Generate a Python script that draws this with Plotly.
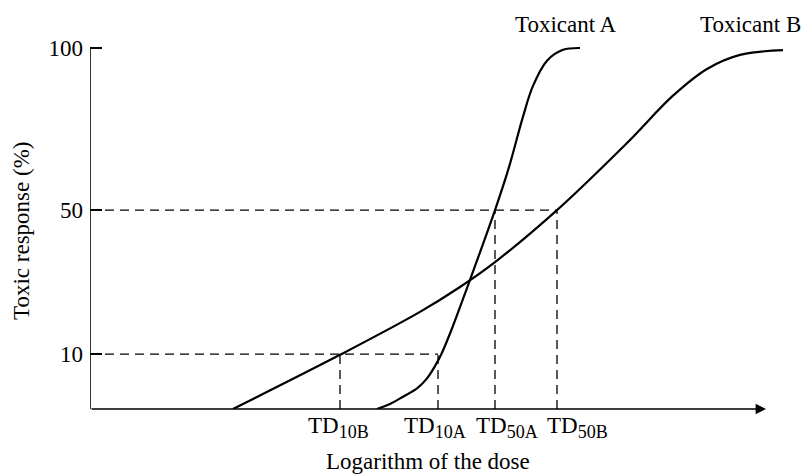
import plotly.graph_objects as go

# Schematic units: x = log dose (arbitrary), y = display height of response axis (0..100 == 0..100 %)
tox_a_x = [28.7, 30.0, 31.3, 32.7, 33.7, 34.5, 35.2, 36.2, 37.7, 40.5, 41.9, 43.3, 44.3, 45.7, 47.3, 49.0]
tox_a_y = [0.0, 1.4, 3.4, 5.7, 8.5, 11.9, 15.6, 22.3, 33.5, 55.1, 67.0, 81.0, 89.5, 96.5, 99.5, 100.0]

tox_b_x = [14.3, 25.0, 33.0, 37.0, 40.5, 46.7, 53.7, 58.3, 61.7, 65.0, 69.3]
tox_b_y = [0.0, 15.0, 26.9, 33.8, 40.7, 55.1, 73.7, 86.8, 94.2, 98.1, 99.4]

y_tick_pos = [15.2, 55.1, 100.0]
y_tick_text = ["10", "50", "100"]

td_pos = [25.0, 34.8, 40.5, 46.7]
td_sub = ["10B", "10A", "50A", "50B"]
td_level = [15.2, 15.2, 55.1, 55.1]
td_label_shift = [-2, -3, 12, 20]   # px offsets of the labels (layout only)

series_names = ["Toxicant A", "Toxicant B"]
x_axis_end = 67.6

td_text = ["TD<sub><span style='font-size:18px'>%s</span></sub>" % s for s in td_sub]

FONT = "'Liberation Serif', 'Times New Roman', Times, serif"
fig = go.Figure()

# dashed guide lines
for xp, lv in zip(td_pos, td_level):
    fig.add_trace(go.Scatter(x=[xp, xp], y=[0, lv], mode="lines",
                             line=dict(color="black", width=1.3, dash="9px,6px"),
                             hoverinfo="skip", showlegend=False))
for lv, xe in [(15.2, td_pos[1]), (55.1, td_pos[3])]:
    fig.add_trace(go.Scatter(x=[0, xe], y=[lv, lv], mode="lines",
                             line=dict(color="black", width=1.3, dash="9px,6px"),
                             hoverinfo="skip", showlegend=False))

fig.add_trace(go.Scatter(x=tox_a_x, y=tox_a_y, mode="lines", name=series_names[0],
                         line=dict(color="black", width=2.2, shape="spline", smoothing=1.0),
                         showlegend=False))
fig.add_trace(go.Scatter(x=tox_b_x, y=tox_b_y, mode="lines", name=series_names[1],
                         line=dict(color="black", width=2.2, shape="spline", smoothing=1.0),
                         showlegend=False))

# y axis line
fig.add_shape(type="line", x0=0, x1=0, y0=0, y1=100, xref="x", yref="y",
              line=dict(color="black", width=1.6))

W, H = 801, 476
L, R, T, B = 90, 11, 20, 67
pw, ph = W - L - R, H - T - B

def px_paper(px, py):
    return (px - L) / pw, (H - B - py) / ph

tx, ty = px_paper(428, 461)
yx, yy = px_paper(22, 231)

annotations = [
    # x axis arrow
    dict(x=x_axis_end, y=0, ax=0, ay=0, xref="x", yref="y", axref="x", ayref="y",
         showarrow=True, arrowhead=2, arrowsize=1.3, arrowwidth=1.6, arrowcolor="black",
         standoff=0, startstandoff=0, text=""),
    dict(x=47.6, y=106.6, xref="x", yref="y", text=series_names[0], showarrow=False,
         font=dict(family=FONT, size=23, color="black"), xanchor="center", yanchor="middle"),
    dict(x=66.0, y=106.6, xref="x", yref="y", text=series_names[1], showarrow=False,
         font=dict(family=FONT, size=23, color="black"), xanchor="center", yanchor="middle"),
    dict(x=tx, y=ty, xref="paper", yref="paper", text="Logarithm of the dose", showarrow=False,
         font=dict(family=FONT, size=23, color="black"), xanchor="center", yanchor="middle"),
    dict(x=yx, y=yy, xref="paper", yref="paper", text="Toxic response (%)", showarrow=False,
         textangle=-90, font=dict(family=FONT, size=23, color="black"),
         xanchor="center", yanchor="middle"),
]
for xp, t, sh in zip(td_pos, td_text, td_label_shift):
    annotations.append(dict(x=xp, y=0, xref="x", yref="y", text=t, showarrow=False,
                            xanchor="center", yanchor="top", xshift=sh, yshift=-3,
                            borderpad=0,
                            font=dict(family=FONT, size=23, color="black")))

fig.update_layout(
    width=W, height=H,
    margin=dict(l=L, r=R, t=T, b=B),
    paper_bgcolor="white", plot_bgcolor="white",
    font=dict(family=FONT, size=23, color="black"),
    annotations=annotations,
    xaxis=dict(range=[0, 70.0], showline=False, showgrid=False, zeroline=False,
               showticklabels=False, ticks=""),
    yaxis=dict(range=[0, 107.76], showline=False, showgrid=False, zeroline=False,
               tickvals=y_tick_pos, ticktext=y_tick_text, ticks="inside", ticklen=12,
               tickwidth=1.6, tickcolor="black", ticklabelstandoff=6,
               tickfont=dict(family=FONT, size=23, color="black")),
)

fig.write_html("out.html")
